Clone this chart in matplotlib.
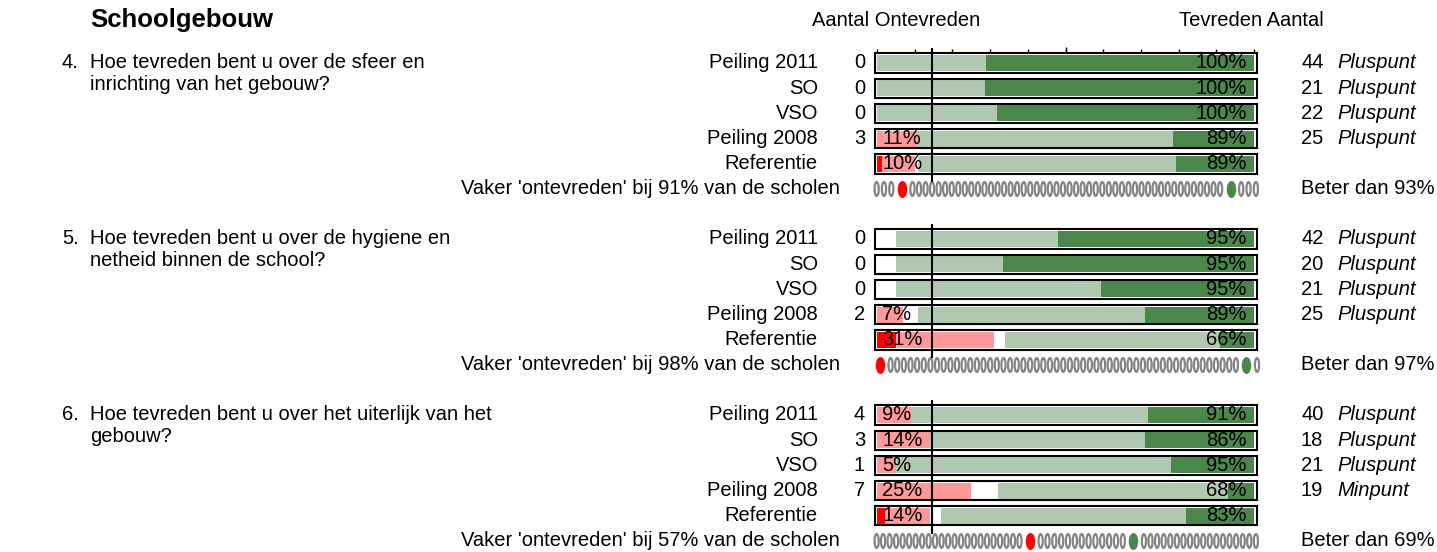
import numpy as np
import matplotlib.pyplot as plt
from matplotlib.path import Path
from matplotlib.patches import Rectangle

plt.rcParams['font.family'] = ['Liberation Sans', 'DejaVu Sans']

title = 'Schoolgebouw'
q_numbers = ['4.', '5.', '6.']
questions = [
    ['Hoe tevreden bent u over de sfeer en', 'inrichting van het gebouw?'],
    ['Hoe tevreden bent u over de hygiene en', 'netheid binnen de school?'],
    ['Hoe tevreden bent u over het uiterlijk van het', 'gebouw?'],
]
row_labels = ['Peiling 2011', 'SO', 'VSO', 'Peiling 2008', 'Referentie']

# shares (%) per row: zeer ontevreden / ontevreden / geen antwoord / tevreden / zeer tevreden
very_unsat = [[0, 0, 0, 0, 1.3], [0, 0, 0, 0, 5], [0, 0, 0, 0, 2]]
unsat = [[0, 0, 0, 11, 8.7], [0, 0, 0, 7, 26], [9, 14, 5, 25, 12]]
no_answer = [[0, 0, 0, 0, 1], [5, 5, 5, 4, 3], [0, 0, 0, 7, 3]]
sat = [[29, 28.6, 31.7, 67.6, 68.3], [43, 28.5, 54.5, 60, 57], [63, 57, 73, 61, 65]]
very_sat = [[71, 71.4, 68.3, 21.4, 20.7], [52, 66.5, 40.5, 29, 9], [28, 29, 22, 7, 18]]

neg_pct = [[0, 0, 0, 11, 10], [0, 0, 0, 7, 31], [9, 14, 5, 25, 14]]
pos_pct = [[100, 100, 100, 89, 89], [95, 95, 95, 89, 66], [91, 86, 95, 68, 83]]
n_neg = [[0, 0, 0, 3], [0, 0, 0, 2], [4, 3, 1, 7]]
n_pos = [[44, 21, 22, 25], [42, 20, 21, 25], [40, 18, 21, 19]]
verdict = [['Pluspunt'] * 4, ['Pluspunt'] * 4,
           ['Pluspunt', 'Pluspunt', 'Pluspunt', 'Minpunt']]

ontevreden_pct = [91, 98, 57]
beter_pct = [93, 97, 69]
red_pos = [6.6, 0.8, 40.6]     # where the red marker sits on the 0-100 strip
green_pos = [93.8, 98.0, 68.0]

ref_line = 14.6

seg_colors = ['#ff0000', '#ff9999', '#ffffff', '#b0c8b0', '#4b874b']
W, H = 1437, 552
x0_px, px_pct = 877, 3.77

fig = plt.figure(figsize=(W / 100, H / 100), dpi=100)
ax = fig.add_axes([0, 0, 1, 1])
ax.set_xlim(-x0_px / px_pct, (W - x0_px) / px_pct)
ax.set_ylim(H, 0)
ax.axis('off')
tr = ax.get_yaxis_transform()
fs = 14.5

ax.text(90 / W, 20, title, transform=tr, fontsize=18.5, fontweight='bold', va='center')
ax.text(896 / W, 20, 'Aantal Ontevreden', transform=tr, fontsize=fs, ha='center', va='center')
ax.text(1251 / W, 20, 'Tevreden Aantal', transform=tr, fontsize=fs, ha='center', va='center')

ring = Path(Path.unit_circle().vertices * [0.3, 1], Path.unit_circle().codes)
blob = Path(Path.unit_circle().vertices * [0.56, 1], Path.unit_circle().codes)


def zeros_between(a, b, step=1.75):
    if b < a - 0.5:
        return np.array([])
    n = int(round((b - a) / step)) + 1
    return np.linspace(a, b, n) if n > 1 else np.array([a])


for q in range(3):
    y0 = 63 + 176 * q
    ys = [y0 + 25.2 * i for i in range(5)]
    ax.text(62 / W, y0, q_numbers[q], transform=tr, fontsize=fs, va='center')
    for k, line in enumerate(questions[q]):
        ax.text(90 / W, y0 + 21 * k, line, transform=tr, fontsize=fs, va='center')
    left = np.zeros(5)
    for segs, col in zip([very_unsat, unsat, no_answer, sat, very_sat], seg_colors):
        vals = np.array(segs[q])
        ax.barh(ys, vals, left=left, height=16, color=col, linewidth=0)
        left += vals
    for i, y in enumerate(ys):
        ax.add_patch(Rectangle((-0.53, y - 9.6), 101.3, 19.3, fill=False,
                               edgecolor='black', linewidth=1.5))
        ax.text(818 / W, y, row_labels[i], transform=tr, fontsize=fs, ha='right', va='center')
        if neg_pct[q][i] > 0:
            ax.text(1.4, y, f'{neg_pct[q][i]}%', fontsize=fs, va='center')
        ax.text(98.1, y, f'{pos_pct[q][i]}%', fontsize=fs, ha='right', va='center')
        if i < 4:
            ax.text(865 / W, y, str(n_neg[q][i]), transform=tr, fontsize=fs, ha='right', va='center')
            ax.text(1301 / W, y, str(n_pos[q][i]), transform=tr, fontsize=fs, va='center')
            ax.text(1337 / W, y, verdict[q][i], transform=tr, fontsize=fs,
                    style='italic', va='center')
    ax.vlines(ref_line, y0 - 15, y0 + 119, color='black', linewidth=1.5)
    if q == 0:
        ax.vlines(np.arange(0, 101, 10), y0 - 13.7, y0 - 9.7, color='black', linewidth=1)
        ax.vlines(50, y0 - 16.3, y0 - 9.7, color='black', linewidth=1)

    yd = y0 + 25.2 * 5
    ax.text(840 / W, yd, f"Vaker 'ontevreden' bij {ontevreden_pct[q]}% van de scholen",
            transform=tr, fontsize=fs, ha='right', va='center')
    ax.text(1301 / W, yd, f'Beter dan {beter_pct[q]}%', transform=tr, fontsize=fs, va='center')
    gap = 2.8
    xs = np.concatenate([zeros_between(-0.1, red_pos[q] - gap),
                         zeros_between(red_pos[q] + gap, green_pos[q] - gap),
                         zeros_between(green_pos[q] + gap, 100.5)])
    ax.scatter(xs, np.full(len(xs), yd), marker=ring, s=100, facecolors='none',
               edgecolors='#858585', linewidths=1.6)
    ax.scatter([red_pos[q]], [yd], marker=blob, s=150, color='#ff0000', linewidths=0)
    ax.scatter([green_pos[q]], [yd], marker=blob, s=150, color='#4b874b', linewidths=0)

fig.savefig('out.png', dpi=100)
